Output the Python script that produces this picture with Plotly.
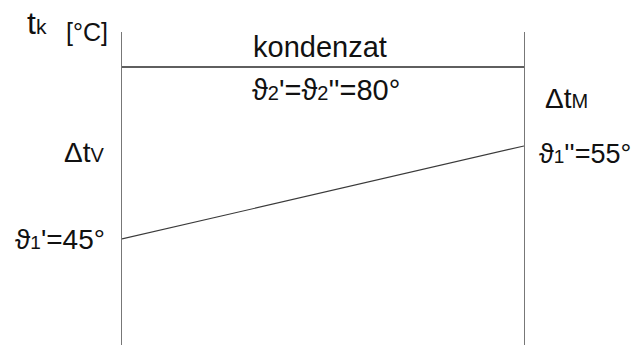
import plotly.graph_objects as go

# Data (schematic temperature diagram)
x_ends = [0, 1]                 # inlet / outlet side of the condenser
t_condensate = [80, 80]         # ϑ2' = ϑ2'' = 80 °C
t_heated = [45, 55]             # ϑ1' = 45 °C -> ϑ1'' = 55 °C

FONT = "Liberation Sans, Arial, DejaVu Sans, sans-serif"
W, H = 638, 345
L, R, T, B = 122, 114, 32, 0
PW, PH = W - L - R, H - T - B

def px(xp):
    return (xp - L) / PW

def py(yp):
    return (H - B - yp) / PH

fig = go.Figure()
fig.add_trace(go.Scatter(x=x_ends, y=t_heated, mode="lines",
                         line=dict(color="#3a3a3a", width=1.2),
                         hoverinfo="skip", yaxis="y"))
fig.add_trace(go.Scatter(x=x_ends, y=t_condensate, mode="lines",
                         line=dict(color="#2a2a2a", width=1.4),
                         hoverinfo="skip", yaxis="y2"))

sub = lambda s, fs=20: f"<span style='font-size:{fs}px'>{s}</span>"
anns = [
    (f"t{sub('k', 21)}", 49, 23, "right", 32),
    ("[°C]", 110, 32.5, "right", 25),
    ("kondenzat", 319.5, 47, "center", 29),
    (f"ϑ{sub('2')}'=ϑ{sub('2')}''=80°", 326, 89.5, "center", 29),
    (f"Δt{sub('M')}", 543, 98.5, "left", 28),
    (f"ϑ{sub('1', 19)}''=55°", 537, 154, "left", 27),
    (f"Δt{sub('V')}", 106, 152, "right", 28),
    (f"ϑ{sub('1', 19)}'=45°", 107, 239, "right", 28),
]
for text, x, y, anchor, size in anns:
    fig.add_annotation(text=text, x=px(x), y=py(y), xref="paper", yref="paper",
                       xanchor=anchor, yanchor="middle", showarrow=False,
                       font=dict(family=FONT, size=size, color="#111111"))

fig.update_layout(
    width=W, height=H,
    margin=dict(l=L, r=R, t=T, b=B, pad=0),
    paper_bgcolor="white", plot_bgcolor="white",
    showlegend=False,
    xaxis=dict(range=[0, 1], visible=False, fixedrange=True),
    yaxis=dict(range=[33.6, 67.26], showline=True, mirror=True,
               linecolor="#777777", linewidth=1.2, showgrid=False,
               zeroline=False, showticklabels=False, ticks="", fixedrange=True),
    yaxis2=dict(range=[0, 90.07], overlaying="y", visible=False, fixedrange=True),
)

fig.write_html("out.html",
               config={"displayModeBar": False, "staticPlot": True},
               post_script="document.body.style.margin='0';document.body.style.overflow='hidden';")
